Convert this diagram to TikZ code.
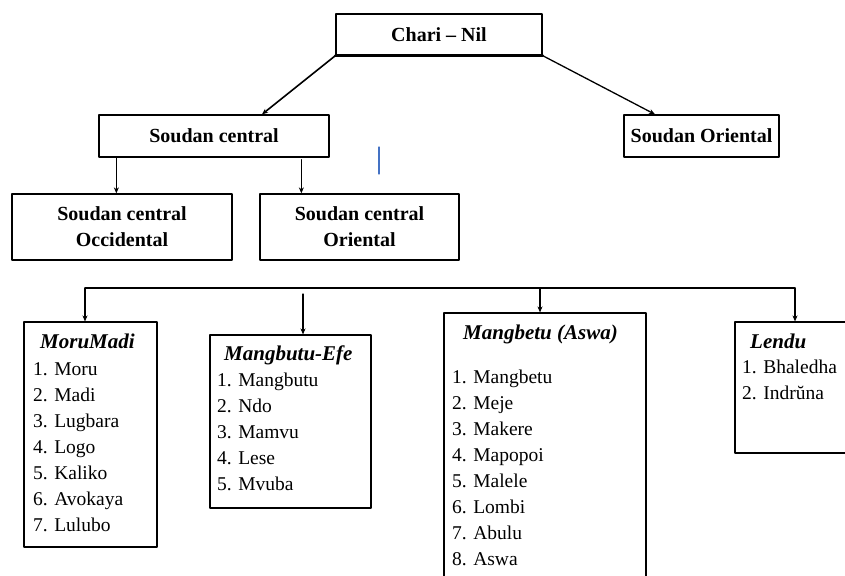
\documentclass[tikz,border=0pt]{standalone}
\usepackage{fontspec}
\setmainfont{Liberation Serif}
\usepackage{tikz}
\usepackage{xcolor}
\usetikzlibrary{arrows}
\usetikzlibrary{arrows.meta,calc}
\definecolor{strayblue}{RGB}{68,114,196}
\tikzset{
  headbox/.style={draw,line width=1.3pt,inner sep=0pt,align=center,font=\bfseries\fontsize{20}{26}\selectfont},
  listbox/.style={draw,line width=1.1pt,inner sep=0pt},
  listhead/.style={anchor=base west,inner sep=0pt,font=\bfseries\itshape\fontsize{21}{26}\selectfont},
  listitems/.style={anchor=north west,inner sep=0pt,align=left,font=\fontsize{19.5}{26}\selectfont},
}
\begin{document}
\begin{tikzpicture}[line cap=round,line join=round,>={Stealth[length=6pt,width=5pt]},x=1pt,y=-1pt]
                \useasboundingbox (0,0) rectangle (845,575);
                \clip (0,0) rectangle (845,575);
                % upper tree
                \node[headbox,minimum width=206pt,minimum height=41pt] (chari) at (439,34.5) {Chari -- Nil};
                \draw [line width=2.4pt] (chari.south west)-- (chari.south east);
                \node[headbox,minimum width=230pt,minimum height=42pt] (scentral) at (214,136) {Soudan central};
                \node[headbox,minimum width=155pt,minimum height=42pt] (soriental) at (701.5,136) {Soudan Oriental};
                \node[headbox,minimum width=220pt,minimum height=66pt] (scocc) at (122,227) {Soudan central\\Occidental};
                \node[headbox,minimum width=199pt,minimum height=66pt] (scor) at (359.5,227) {Soudan central\\Oriental};
                \draw [->,line width=1.6pt] (chari.south west)-- ([xshift=48pt]scentral.north);
                \draw [->,line width=1.3pt] (chari.south east)-- ([xshift=-46.5pt]soriental.north);
                \draw [->,line width=1.1pt] ([xshift=18pt]scentral.south west)-- ([xshift=105pt]scocc.north west);
                \draw [->,line width=1.1pt] ([xshift=203pt,yshift=-2pt]scentral.south west)-- ([xshift=42pt]scor.north west);
                \draw [color=strayblue,line width=1.3pt] (379,147)-- (379,174);
                % lower boxes
                \node[listbox,minimum width=133pt,minimum height=225pt] (moru) at (90.5,434.5) {};
                \node[listbox,minimum width=161pt,minimum height=173pt] (mefe) at (290.5,421.5) {};
                \node[listbox,minimum width=202pt,minimum height=277pt] (masw) at (545,451.5) {};
                \node[listbox,minimum width=125pt,minimum height=131pt] (lendu) at (797.5,387.5) {};
                \coordinate (barL) at (85,288);
                \coordinate (barM) at (540,288);
                \coordinate (barR) at (795,288);
                \coordinate (efeTop) at (303,294);
                \draw [line width=1.1pt] (barL)-- (barR);
                \draw [->,line width=1.1pt] (barL)-- (barL |- moru.north);
                \draw [->,line width=1.1pt] (efeTop)-- (efeTop |- mefe.north);
                \draw [->,line width=1.1pt] (barM)-- (barM |- masw.north);
                \draw [->,line width=1.1pt] (barR)-- (barR |- lendu.north);
                % list texts
                \node[listhead] (moruhead) at (40,348) {MoruMadi};
                \node[listitems] (moruitems) at (33,362) {1. Moru\\2. Madi\\3. Lugbara\\4. Logo\\5. Kaliko\\6. Avokaya\\7. Lulubo};
                \node[listhead] (mefehead) at (224,360) {Mangbutu-Efe};
                \node[listitems] (mefeitems) at (217,373) {1. Mangbutu\\2. Ndo\\3. Mamvu\\4. Lese\\5. Mvuba};
                \node[listhead] (maswhead) at (463,339) {Mangbetu (Aswa)};
                \node[listitems] (maswitems) at (452,370) {1. Mangbetu\\2. Meje\\3. Makere\\4. Mapopoi\\5. Malele\\6. Lombi\\7. Abulu\\8. Aswa};
                \node[listhead] (lenduhead) at (750,348) {Lendu};
                \node[listitems] (lenduitems) at (742,360) {1. Bhaledha\\2. Indrŭna};
\end{tikzpicture}
\end{document}
